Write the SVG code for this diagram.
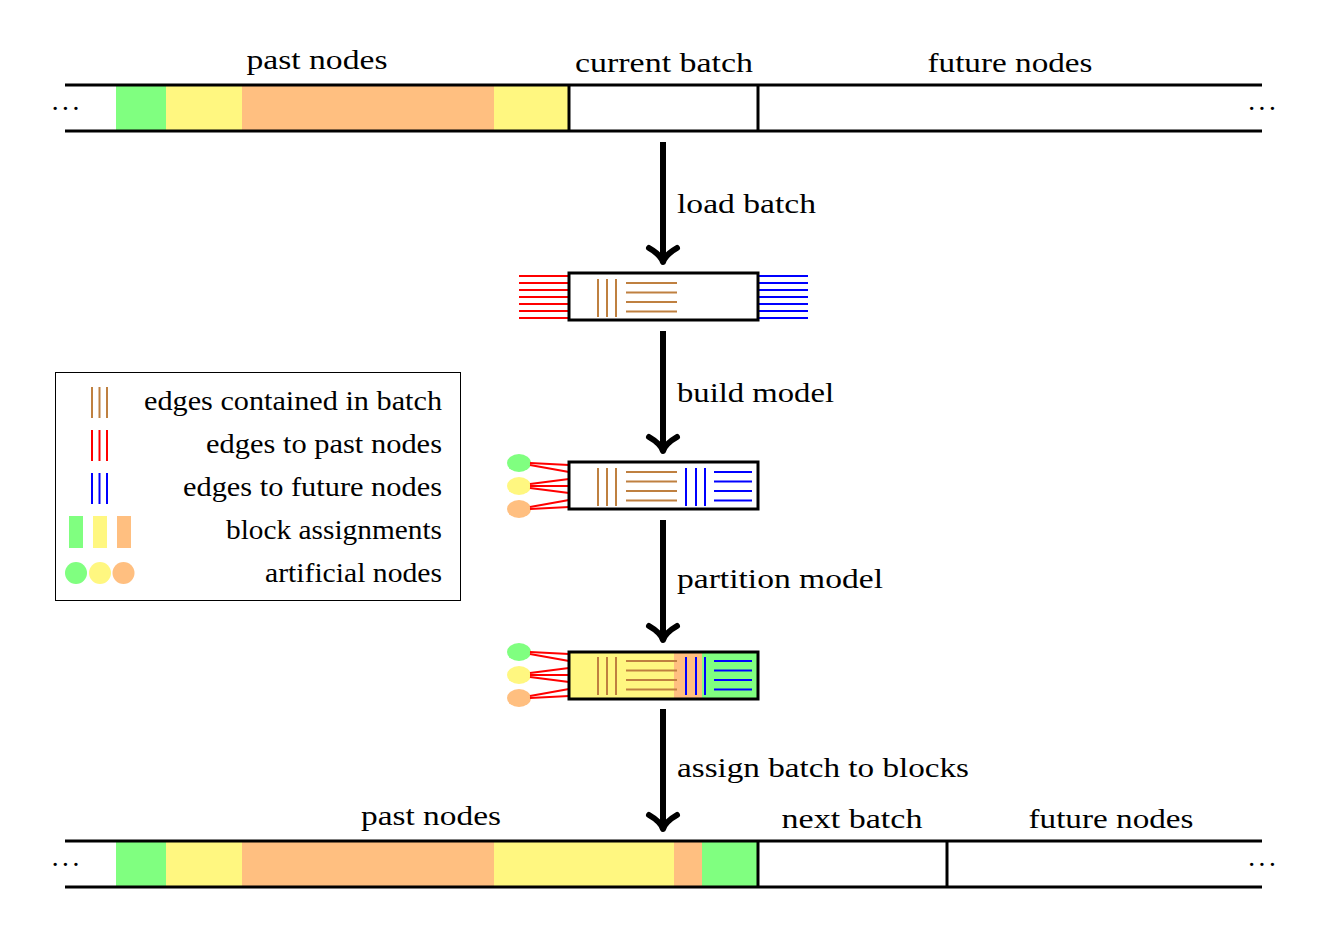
<svg xmlns="http://www.w3.org/2000/svg" width="1329" height="929" viewBox="0 0 1329 929">
<style>
text{font-family:"Liberation Serif","Times New Roman",serif;font-size:27px;fill:#000}
.rule{stroke:#000;stroke-width:3;fill:none}
.box{stroke:#000;stroke-width:3;fill:none}
.br{stroke:#BF8040;stroke-width:2}
.rd{stroke:#FF0000;stroke-width:2}
.bl{stroke:#0000FF;stroke-width:2}
.g{fill:#80FF80}.y{fill:#FFF780}.o{fill:#FFBF80}
.shaft{stroke:#000;stroke-width:6;fill:none}
.tip{stroke:#000;stroke-width:6;fill:none;stroke-linecap:round;stroke-linejoin:round}
.r{text-anchor:end}
.dots{font-size:28px}
</style>
<defs>
<g id="inner">
<line class="br" x1="598" y1="0" x2="598" y2="38"/>
<line class="br" x1="607" y1="0" x2="607" y2="38"/>
<line class="br" x1="616" y1="0" x2="616" y2="38"/>
<line class="br" x1="626" y1="4" x2="677" y2="4"/>
<line class="br" x1="626" y1="13.5" x2="677" y2="13.5"/>
<line class="br" x1="626" y1="23" x2="677" y2="23"/>
<line class="br" x1="626" y1="32.5" x2="677" y2="32.5"/>
</g>
<g id="innerblue">
<line class="bl" x1="686" y1="0" x2="686" y2="38"/>
<line class="bl" x1="696" y1="0" x2="696" y2="38"/>
<line class="bl" x1="705" y1="0" x2="705" y2="38"/>
<line class="bl" x1="714" y1="4" x2="752" y2="4"/>
<line class="bl" x1="714" y1="13.5" x2="752" y2="13.5"/>
<line class="bl" x1="714" y1="23" x2="752" y2="23"/>
<line class="bl" x1="714" y1="32.5" x2="752" y2="32.5"/>
</g>
<g id="fan">
<ellipse class="g" cx="519" cy="1" rx="12" ry="9"/>
<ellipse class="y" cx="519" cy="24" rx="12" ry="9"/>
<ellipse class="o" cx="519" cy="47" rx="12" ry="9"/>
<line class="rd" x1="530" y1="1" x2="569" y2="3"/>
<line class="rd" x1="530" y1="3" x2="569" y2="10"/>
<line class="rd" x1="530" y1="22" x2="569" y2="17"/>
<line class="rd" x1="530" y1="24" x2="569" y2="24"/>
<line class="rd" x1="530" y1="26" x2="569" y2="31"/>
<line class="rd" x1="530" y1="45" x2="569" y2="38"/>
<line class="rd" x1="530" y1="47" x2="569" y2="45"/>
</g>
<g id="arrow">
<line class="shaft" x1="663" y1="0" x2="663" y2="118"/>
<path class="tip" d="M649,106 C656,110 661,114 663,120 C665,114 670,110 677,106"/>
</g>
</defs>

<g id="top-strip">
<rect class="g" x="116" y="85" width="50" height="46"/>
<rect class="y" x="166" y="85" width="76" height="46"/>
<rect class="o" x="242" y="85" width="252" height="46"/>
<rect class="y" x="494" y="85" width="75" height="46"/>
<line class="rule" x1="65" y1="85" x2="1262" y2="85"/>
<line class="rule" x1="65" y1="131" x2="1262" y2="131"/>
<line class="rule" x1="569" y1="85" x2="569" y2="131"/>
<line class="rule" x1="758" y1="85" x2="758" y2="131"/>
<text class="dots" x="65.5" y="118" text-anchor="middle" textLength="30" lengthAdjust="spacing">· · ·</text>
<text class="dots" x="1262" y="118" text-anchor="middle" textLength="30" lengthAdjust="spacing">· · ·</text>
<text x="317" y="69" text-anchor="middle" textLength="141" lengthAdjust="spacingAndGlyphs">past nodes</text>
<text x="664" y="72" text-anchor="middle" textLength="178" lengthAdjust="spacingAndGlyphs">current batch</text>
<text x="1010" y="72" text-anchor="middle" textLength="165" lengthAdjust="spacingAndGlyphs">future nodes</text>
</g>

<g id="connectors">
<use href="#arrow" y="142"/>
<use href="#arrow" y="331"/>
<use href="#arrow" y="520"/>
<use href="#arrow" y="709"/>
<text x="677" y="213" textLength="139" lengthAdjust="spacingAndGlyphs">load batch</text>
<text x="677" y="402" textLength="157" lengthAdjust="spacingAndGlyphs">build model</text>
<text x="677" y="588" textLength="206" lengthAdjust="spacingAndGlyphs">partition model</text>
<text x="677" y="777" textLength="292" lengthAdjust="spacingAndGlyphs">assign batch to blocks</text>
</g>

<g id="batch-loaded">
<g class="rd">
<line x1="519" y1="276" x2="569" y2="276"/><line x1="519" y1="283" x2="569" y2="283"/>
<line x1="519" y1="290" x2="569" y2="290"/><line x1="519" y1="297" x2="569" y2="297"/>
<line x1="519" y1="304" x2="569" y2="304"/><line x1="519" y1="311" x2="569" y2="311"/>
<line x1="519" y1="318" x2="569" y2="318"/>
</g>
<g class="bl">
<line x1="758" y1="276" x2="808" y2="276"/><line x1="758" y1="283" x2="808" y2="283"/>
<line x1="758" y1="290" x2="808" y2="290"/><line x1="758" y1="297" x2="808" y2="297"/>
<line x1="758" y1="304" x2="808" y2="304"/><line x1="758" y1="311" x2="808" y2="311"/>
<line x1="758" y1="318" x2="808" y2="318"/>
</g>
<use href="#inner" y="279"/>
<rect class="box" x="569" y="273" width="189" height="47"/>
</g>

<g id="batch-model">
<use href="#fan" y="462"/>
<use href="#inner" y="468"/>
<use href="#innerblue" y="468"/>
<rect class="box" x="569" y="462" width="189" height="47"/>
</g>

<g id="batch-partitioned">
<rect class="y" x="569" y="652" width="105" height="47"/>
<rect class="o" x="674" y="652" width="28" height="47"/>
<rect class="g" x="702" y="652" width="56" height="47"/>
<use href="#fan" y="651"/>
<use href="#inner" y="657"/>
<use href="#innerblue" y="657"/>
<rect class="box" x="569" y="652" width="189" height="47"/>
</g>

<g id="bottom-strip">
<rect class="g" x="116" y="841" width="50" height="46"/>
<rect class="y" x="166" y="841" width="76" height="46"/>
<rect class="o" x="242" y="841" width="252" height="46"/>
<rect class="y" x="494" y="841" width="180" height="46"/>
<rect class="o" x="674" y="841" width="28" height="46"/>
<rect class="g" x="702" y="841" width="56" height="46"/>
<line class="rule" x1="65" y1="841" x2="1262" y2="841"/>
<line class="rule" x1="65" y1="887" x2="1262" y2="887"/>
<line class="rule" x1="758" y1="841" x2="758" y2="887"/>
<line class="rule" x1="947" y1="841" x2="947" y2="887"/>
<text class="dots" x="65.5" y="874" text-anchor="middle" textLength="30" lengthAdjust="spacing">· · ·</text>
<text class="dots" x="1262" y="874" text-anchor="middle" textLength="30" lengthAdjust="spacing">· · ·</text>
<text x="431" y="825" text-anchor="middle" textLength="140" lengthAdjust="spacingAndGlyphs">past nodes</text>
<text x="852" y="828" text-anchor="middle" textLength="141" lengthAdjust="spacingAndGlyphs">next batch</text>
<text x="1111" y="828" text-anchor="middle" textLength="165" lengthAdjust="spacingAndGlyphs">future nodes</text>
</g>

<g id="legend">
<rect x="55.5" y="372.5" width="405" height="228" fill="none" stroke="#000" stroke-width="1"/>
<g class="br"><line x1="92" y1="387" x2="92" y2="418"/><line x1="99.5" y1="387" x2="99.5" y2="418"/><line x1="107" y1="387" x2="107" y2="418"/></g>
<g class="rd"><line x1="92" y1="430" x2="92" y2="461"/><line x1="99.5" y1="430" x2="99.5" y2="461"/><line x1="107" y1="430" x2="107" y2="461"/></g>
<g class="bl"><line x1="92" y1="473" x2="92" y2="504"/><line x1="99.5" y1="473" x2="99.5" y2="504"/><line x1="107" y1="473" x2="107" y2="504"/></g>
<rect class="g" x="69" y="516" width="14" height="32"/>
<rect class="y" x="93" y="516" width="14" height="32"/>
<rect class="o" x="117" y="516" width="14" height="32"/>
<circle class="g" cx="76" cy="573" r="11"/>
<circle class="y" cx="100" cy="573" r="11"/>
<circle class="o" cx="123.5" cy="573" r="11"/>
<text class="r" x="442" y="410" textLength="298" lengthAdjust="spacingAndGlyphs">edges contained in batch</text>
<text class="r" x="442" y="453" textLength="236" lengthAdjust="spacingAndGlyphs">edges to past nodes</text>
<text class="r" x="442" y="496" textLength="259" lengthAdjust="spacingAndGlyphs">edges to future nodes</text>
<text class="r" x="442" y="539" textLength="216" lengthAdjust="spacingAndGlyphs">block assignments</text>
<text class="r" x="442" y="582" textLength="177" lengthAdjust="spacingAndGlyphs">artificial nodes</text>
</g>
</svg>
